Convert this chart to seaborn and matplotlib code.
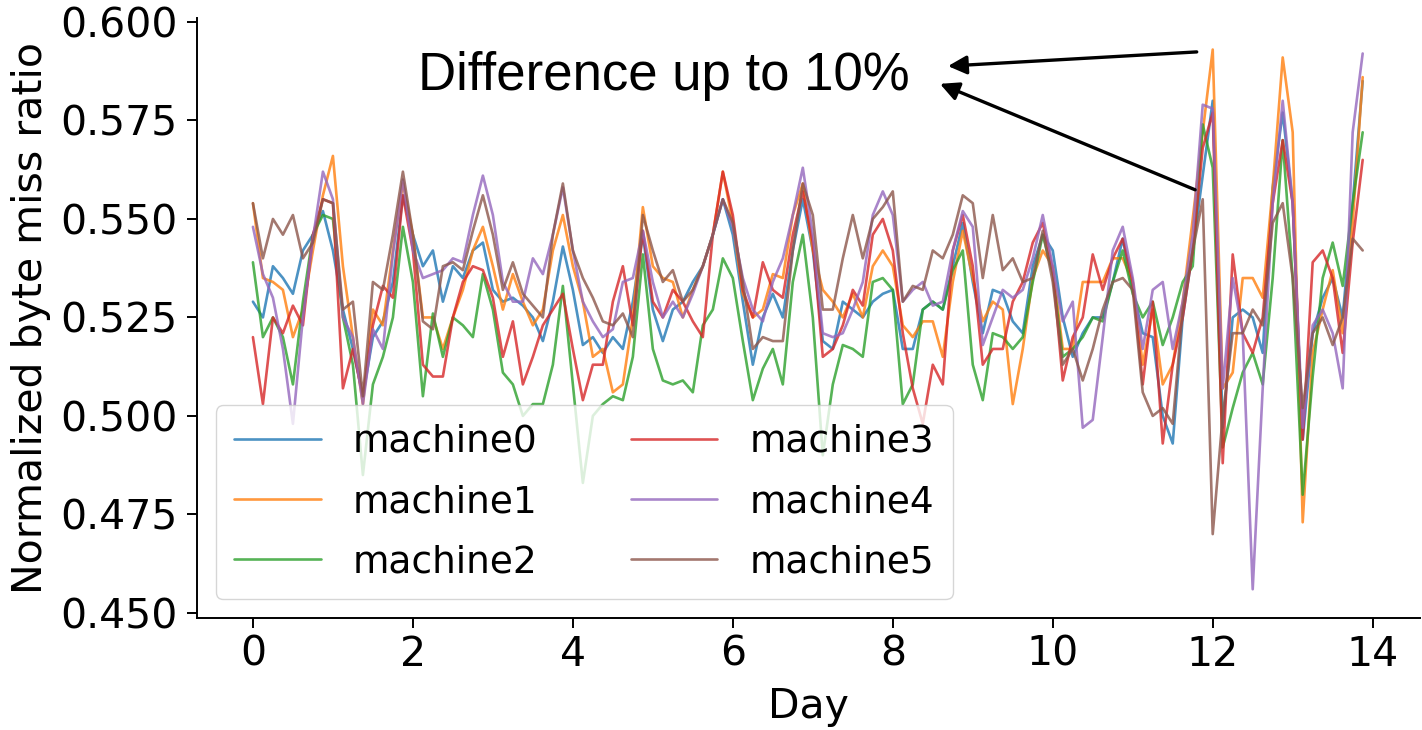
import numpy as np
import pandas as pd
import matplotlib
matplotlib.use("Agg")
import matplotlib.pyplot as plt
from matplotlib.ticker import FormatStrFormatter
import seaborn as sns

# ---- data (normalized byte miss ratio, sampled every 3 hours) ----
machine0 = [0.529, 0.525, 0.538, 0.535, 0.531, 0.542, 0.546, 0.552,
            0.542, 0.527, 0.517, 0.505, 0.520, 0.524, 0.534, 0.556,
            0.546, 0.538, 0.542, 0.529, 0.538, 0.535, 0.542, 0.544,
            0.532, 0.529, 0.530, 0.528, 0.525, 0.519, 0.529, 0.543,
            0.532, 0.518, 0.520, 0.516, 0.520, 0.517, 0.529, 0.546,
            0.527, 0.519, 0.527, 0.529, 0.534, 0.538, 0.546, 0.555,
            0.546, 0.529, 0.513, 0.525, 0.531, 0.525, 0.542, 0.555,
            0.542, 0.519, 0.517, 0.529, 0.527, 0.525, 0.529, 0.531,
            0.532, 0.517, 0.517, 0.527, 0.529, 0.527, 0.538, 0.549,
            0.534, 0.521, 0.532, 0.531, 0.524, 0.521, 0.538, 0.546,
            0.542, 0.525, 0.515, 0.521, 0.525, 0.525, 0.534, 0.545,
            0.532, 0.521, 0.520, 0.500, 0.493, 0.525, 0.542, 0.561,
            0.580, 0.497, 0.525, 0.527, 0.525, 0.516, 0.558, 0.577,
            0.554, 0.494, 0.521, 0.530, 0.535, 0.525, 0.554, 0.585]
machine1 = [0.554, 0.535, 0.534, 0.532, 0.520, 0.527, 0.542, 0.556,
            0.566, 0.538, 0.520, 0.503, 0.527, 0.523, 0.542, 0.559,
            0.546, 0.525, 0.525, 0.517, 0.525, 0.532, 0.542, 0.548,
            0.538, 0.527, 0.536, 0.529, 0.523, 0.527, 0.542, 0.551,
            0.538, 0.529, 0.515, 0.517, 0.506, 0.508, 0.525, 0.553,
            0.538, 0.535, 0.534, 0.525, 0.532, 0.538, 0.546, 0.562,
            0.549, 0.531, 0.525, 0.527, 0.536, 0.535, 0.551, 0.559,
            0.542, 0.532, 0.529, 0.525, 0.531, 0.525, 0.538, 0.542,
            0.538, 0.523, 0.520, 0.524, 0.524, 0.515, 0.534, 0.547,
            0.535, 0.524, 0.529, 0.527, 0.503, 0.517, 0.535, 0.542,
            0.538, 0.517, 0.517, 0.534, 0.534, 0.534, 0.540, 0.540,
            0.534, 0.513, 0.527, 0.508, 0.513, 0.529, 0.550, 0.572,
            0.593, 0.507, 0.511, 0.535, 0.535, 0.530, 0.558, 0.591,
            0.572, 0.473, 0.516, 0.527, 0.537, 0.521, 0.549, 0.586]
machine2 = [0.539, 0.520, 0.525, 0.520, 0.508, 0.529, 0.546, 0.551,
            0.550, 0.525, 0.513, 0.485, 0.508, 0.515, 0.525, 0.548,
            0.534, 0.505, 0.526, 0.515, 0.525, 0.523, 0.520, 0.536,
            0.527, 0.511, 0.508, 0.500, 0.503, 0.503, 0.513, 0.533,
            0.508, 0.483, 0.500, 0.503, 0.505, 0.504, 0.515, 0.541,
            0.517, 0.509, 0.508, 0.509, 0.506, 0.523, 0.527, 0.540,
            0.535, 0.519, 0.504, 0.512, 0.517, 0.508, 0.534, 0.546,
            0.525, 0.490, 0.508, 0.518, 0.517, 0.515, 0.534, 0.535,
            0.532, 0.503, 0.508, 0.527, 0.529, 0.527, 0.537, 0.542,
            0.513, 0.504, 0.521, 0.520, 0.517, 0.520, 0.534, 0.546,
            0.536, 0.515, 0.517, 0.520, 0.525, 0.524, 0.534, 0.542,
            0.531, 0.525, 0.529, 0.518, 0.525, 0.534, 0.538, 0.574,
            0.563, 0.492, 0.502, 0.511, 0.516, 0.508, 0.535, 0.570,
            0.535, 0.480, 0.510, 0.535, 0.544, 0.533, 0.554, 0.572]
machine3 = [0.520, 0.503, 0.525, 0.521, 0.528, 0.523, 0.546, 0.555,
            0.554, 0.507, 0.517, 0.505, 0.523, 0.533, 0.530, 0.556,
            0.542, 0.513, 0.510, 0.510, 0.525, 0.534, 0.538, 0.537,
            0.530, 0.515, 0.524, 0.508, 0.515, 0.523, 0.527, 0.531,
            0.517, 0.504, 0.513, 0.513, 0.529, 0.538, 0.523, 0.547,
            0.529, 0.525, 0.532, 0.529, 0.524, 0.520, 0.546, 0.562,
            0.551, 0.532, 0.525, 0.539, 0.532, 0.530, 0.546, 0.557,
            0.544, 0.515, 0.517, 0.523, 0.532, 0.528, 0.546, 0.550,
            0.542, 0.521, 0.507, 0.498, 0.513, 0.508, 0.542, 0.551,
            0.538, 0.513, 0.517, 0.517, 0.529, 0.534, 0.544, 0.549,
            0.537, 0.509, 0.520, 0.525, 0.541, 0.532, 0.540, 0.545,
            0.534, 0.508, 0.529, 0.493, 0.513, 0.525, 0.542, 0.568,
            0.577, 0.488, 0.541, 0.521, 0.516, 0.525, 0.554, 0.570,
            0.554, 0.494, 0.539, 0.542, 0.535, 0.516, 0.544, 0.565]
machine4 = [0.548, 0.536, 0.530, 0.517, 0.498, 0.525, 0.545, 0.562,
            0.555, 0.525, 0.520, 0.503, 0.522, 0.517, 0.541, 0.560,
            0.542, 0.535, 0.536, 0.537, 0.540, 0.539, 0.551, 0.561,
            0.551, 0.534, 0.529, 0.529, 0.540, 0.536, 0.546, 0.558,
            0.542, 0.529, 0.524, 0.520, 0.522, 0.534, 0.535, 0.547,
            0.534, 0.525, 0.529, 0.525, 0.531, 0.538, 0.546, 0.555,
            0.548, 0.535, 0.527, 0.524, 0.534, 0.540, 0.551, 0.563,
            0.546, 0.521, 0.520, 0.521, 0.527, 0.534, 0.551, 0.557,
            0.551, 0.529, 0.532, 0.534, 0.528, 0.529, 0.542, 0.552,
            0.548, 0.518, 0.525, 0.532, 0.530, 0.532, 0.540, 0.551,
            0.538, 0.524, 0.529, 0.497, 0.499, 0.520, 0.542, 0.548,
            0.535, 0.517, 0.532, 0.534, 0.517, 0.529, 0.546, 0.579,
            0.578, 0.507, 0.535, 0.521, 0.456, 0.507, 0.554, 0.580,
            0.554, 0.497, 0.523, 0.527, 0.521, 0.507, 0.572, 0.592]
machine5 = [0.554, 0.540, 0.550, 0.546, 0.551, 0.540, 0.544, 0.555,
            0.554, 0.527, 0.529, 0.505, 0.534, 0.532, 0.546, 0.562,
            0.546, 0.524, 0.522, 0.538, 0.539, 0.537, 0.547, 0.556,
            0.546, 0.532, 0.539, 0.531, 0.528, 0.525, 0.546, 0.559,
            0.542, 0.535, 0.530, 0.524, 0.523, 0.526, 0.520, 0.551,
            0.542, 0.534, 0.537, 0.529, 0.532, 0.538, 0.546, 0.555,
            0.549, 0.534, 0.517, 0.520, 0.519, 0.519, 0.542, 0.559,
            0.551, 0.527, 0.527, 0.540, 0.551, 0.540, 0.550, 0.553,
            0.557, 0.529, 0.533, 0.532, 0.542, 0.540, 0.546, 0.556,
            0.554, 0.535, 0.551, 0.537, 0.540, 0.534, 0.535, 0.547,
            0.534, 0.513, 0.517, 0.509, 0.517, 0.527, 0.534, 0.535,
            0.532, 0.506, 0.500, 0.502, 0.498, 0.527, 0.542, 0.555,
            0.470, 0.500, 0.521, 0.521, 0.527, 0.523, 0.549, 0.554,
            0.535, 0.502, 0.521, 0.525, 0.518, 0.525, 0.545, 0.542]

machine_names = ["machine0", "machine1", "machine2", "machine3", "machine4", "machine5"]
samples_per_day = 8
x_ticks = [0, 2, 4, 6, 8, 10, 12, 14]
y_ticks = [0.450, 0.475, 0.500, 0.525, 0.550, 0.575, 0.600]
annotation_text = "Difference up to 10%"
# arrow tails (near the day-12 peak) and heads (next to the text), in data units
arrow_tails = [(11.80, 0.5924), (11.78, 0.5574)]
arrow_heads = [(8.69, 0.5888), (8.59, 0.5843)]

# ---- build long-form table ----
all_series = [machine0, machine1, machine2, machine3, machine4, machine5]
frames = []
for name, vals in zip(machine_names, all_series):
    frames.append(pd.DataFrame({
        "Day": np.arange(len(vals)) / samples_per_day,
        "ratio": vals,
        "machine": name,
    }))
df = pd.concat(frames, ignore_index=True)

sns.set_theme(style="ticks")
plt.rcParams["font.family"] = ["DejaVu Sans"]
plt.rcParams["text.color"] = "black"

fig = plt.figure(figsize=(14.22, 7.30), dpi=100)
ax = fig.add_axes([0.1385, 0.1534, 0.8600, 0.8219])

palette = sns.color_palette("tab10", 6)
sns.lineplot(data=df, x="Day", y="ratio", hue="machine", hue_order=machine_names,
             palette=palette, alpha=0.8, linewidth=1.9, ax=ax)

ax.set_xlim(-0.70, 14.59)
ax.set_ylim(0.4487, 0.6010)
ax.set_xticks(x_ticks)
ax.set_yticks(y_ticks)
ax.yaxis.set_major_formatter(FormatStrFormatter("%.3f"))
ax.tick_params(axis="both", labelsize=29.5, length=7, width=1.4, colors="black")
ax.tick_params(axis="y", pad=7)
ax.tick_params(axis="x", pad=5)
ax.set_xlabel("Day", fontsize=29.5, color="black", labelpad=9)
ax.set_ylabel("Normalized byte miss ratio", fontsize=29.5, color="black")
ax.yaxis.set_label_coords(-0.119, 0.5)
for side in ["left", "bottom"]:
    ax.spines[side].set_color("black")
    ax.spines[side].set_linewidth(1.4)
sns.despine(ax=ax)

handles, labels = ax.get_legend_handles_labels()
for h in handles:
    h.set_alpha(0.8)
    h.set_linewidth(1.9)
leg = ax.legend(handles, labels, loc="lower left", ncol=2, fontsize=27,
                handlelength=2.3, handletextpad=0.85, columnspacing=2.5,
                labelspacing=0.65, borderpad=0.5, borderaxespad=0.5,
                frameon=True, framealpha=0.8, edgecolor="0.8")
for t in leg.get_texts():
    t.set_color("black")

fig.text(418 / 1422, 1 - 90 / 730, annotation_text, fontsize=38,
         family=["Liberation Sans", "DejaVu Sans"], ha="left", va="baseline",
         color="black")
for tail, head in zip(arrow_tails, arrow_heads):
    ax.annotate("", xy=head, xytext=tail, xycoords="data", textcoords="data",
                arrowprops=dict(arrowstyle="-|>", color="black", lw=2.4,
                                mutation_scale=28, shrinkA=0, shrinkB=0),
                annotation_clip=False)

fig.savefig("out.png", dpi=100)
